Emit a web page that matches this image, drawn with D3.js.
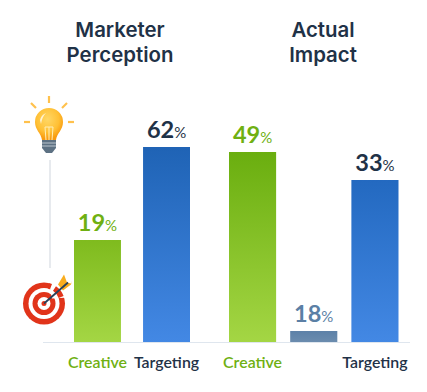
<!DOCTYPE html>
<html>
<head>
<meta charset="utf-8">
<script src="https://cdn.jsdelivr.net/npm/d3@7/dist/d3.min.js"></script>
<style>
  body { margin: 0; background: #fff; }
  text { font-family: Lato, sans-serif; }
  .title { font-family: Inter, sans-serif; font-size: 20.4px; font-weight: 600; fill: #1f3247; text-anchor: middle; }
  .value { font-weight: 700; text-anchor: middle; }
  .cat { font-size: 15.9px; font-weight: 600; text-anchor: middle; }
</style>
</head>
<body>
<div id="chart"></div>
<script>
var groups = ["Marketer Perception", "Actual Impact"];
var perceptionCats = ["Creative", "Targeting"];
var perceptionValues = [19, 62];
// the bars in the original are not drawn to the printed percentages, so heights are read separately
var perceptionHeights = [102, 195];
var impactCats = ["Creative", "Other", "Targeting"];
var impactValues = [49, 18, 33];
var impactHeights = [190, 11, 162];

var width = 427, height = 392, baseline = 342;

var svg = d3.select("#chart").append("svg")
  .attr("width", width)
  .attr("height", height)
  .style("display", "block");

var defs = svg.append("defs");

function gradient(id, top, bottom){
  var g = defs.append("linearGradient").attr("id", id)
    .attr("x1", 0).attr("y1", 0).attr("x2", 0).attr("y2", 1);
  g.append("stop").attr("offset", 0).attr("stop-color", top);
  g.append("stop").attr("offset", 1).attr("stop-color", bottom);
}
gradient("green-tall", "#6aae0f", "#a4d644");
gradient("green-short", "#7fbb1e", "#a4d644");
gradient("blue-tall", "#1f63b5", "#4388e4");
gradient("blue-mid", "#2369c0", "#4388e4");
gradient("grey", "#5d81a8", "#6b8cae");

var y = d3.scaleLinear().domain([0, 195]).range([baseline, 147]);

var xLeft = d3.scaleBand().domain(perceptionCats).range([74, 190]).paddingInner(0.32);
var xRight = d3.scaleBand().domain(impactCats).range([229, 398.5]).paddingInner(0.23);

var perception = perceptionCats.map(function(c, i){
  return { cat: c, value: perceptionValues[i], h: perceptionHeights[i], x: xLeft(c), w: xLeft.bandwidth(),
    fill: c === "Creative" ? "url(#green-short)" : "url(#blue-tall)", color: c === "Creative" ? "#6fb012" : "#1f3247" };
});
var impact = impactCats.map(function(c, i){
  var fill = c === "Creative" ? "url(#green-tall)" : c === "Targeting" ? "url(#blue-mid)" : "url(#grey)";
  var color = c === "Creative" ? "#6fb012" : c === "Targeting" ? "#1f3247" : "#5b7fa5";
  return { cat: c, value: impactValues[i], h: impactHeights[i], x: xRight(c), w: xRight.bandwidth(), fill: fill, color: color };
});
var bars = perception.concat(impact);

// Baseline
svg.append("line")
  .attr("x1", 43).attr("x2", 410)
  .attr("y1", baseline + 0.5).attr("y2", baseline + 0.5)
  .attr("stroke", "#dfe6ee").attr("stroke-width", 1);

// Bars
svg.selectAll(".bar").data(bars).enter().append("rect")
  .attr("class", "bar")
  .attr("x", function(d){ return d.x; })
  .attr("y", function(d){ return y(d.h); })
  .attr("width", function(d){ return d.w; })
  .attr("height", function(d){ return baseline - y(d.h); })
  .attr("fill", function(d){ return d.fill; });

// Value labels
var labels = svg.selectAll(".value").data(bars).enter().append("text")
  .attr("class", "value")
  .attr("x", function(d){ return d.x + d.w / 2; })
  .attr("y", function(d){ return y(d.h) - 9; })
  .attr("fill", function(d){ return d.color; });
labels.append("tspan").style("font-size", "23.5px").style("font-weight", 700).text(function(d){ return d.value; });
labels.append("tspan").style("font-size", "15px").style("font-weight", 400).text("%");

// Category labels, the short middle bar has none
svg.selectAll(".cat").data(bars.filter(function(d){ return d.cat !== "Other"; })).enter().append("text")
  .attr("class", "cat")
  .attr("x", function(d){ return d.x + d.w / 2; })
  .attr("y", 368)
  .attr("fill", function(d){ return d.color; })
  .text(function(d){ return d.cat; });

// Titles
var titleX = d3.scalePoint().domain(groups).range([120, 323]);
groups.forEach(function(g){
  var words = g.split(" ");
  words.forEach(function(w, i){
    svg.append("text").attr("class", "title")
      .attr("x", titleX(g))
      .attr("y", 37 + i * 25)
      .text(w);
  });
});

// Connector between the icons
svg.append("line")
  .attr("x1", 50).attr("x2", 50).attr("y1", 160).attr("y2", 268)
  .attr("stroke", "#dfe3e8").attr("stroke-width", 1.5);

// Bulb icon
var bulb = svg.append("g").attr("transform", "translate(49,122)");
var bulbGrad = defs.append("radialGradient").attr("id", "bulb-fill")
  .attr("cx", 0.45).attr("cy", 0.35).attr("r", 0.62);
bulbGrad.append("stop").attr("offset", 0).attr("stop-color", "#ffd765");
bulbGrad.append("stop").attr("offset", 0.65).attr("stop-color", "#ffc035");
bulbGrad.append("stop").attr("offset", 1).attr("stop-color", "#f99a0e");
[[0,-19,0,-26],[-13,-14,-18,-19],[13,-14,18,-19],[-19,0,-25,0],[19,0,25,0]].forEach(function(r){
  bulb.append("line")
    .attr("x1", r[0]).attr("y1", r[1]).attr("x2", r[2]).attr("y2", r[3])
    .attr("stroke", "#ffc14d").attr("stroke-width", 2.2);
});
bulb.append("path")
  .attr("d", "M-7,18 C-8,11 -14,8 -14,0 A14,14 0 1 1 14,0 C14,8 8,11 7,18 Z")
  .attr("fill", "url(#bulb-fill)");
bulb.append("path")
  .attr("d", "M-9,-2 A10,10 0 0 1 -3,-9 C-6,-6 -7,-3 -8,2 Z")
  .attr("fill", "#fff").attr("opacity", 0.75);
bulb.append("path")
  .attr("d", "M-3,18 L-4,5 L4,5 L3,18 M0,18 L0,5")
  .attr("fill", "none").attr("stroke", "#ffeeb5").attr("stroke-width", 1);
bulb.append("path")
  .attr("d", "M-7,18 H7 V26 L3,31 H-3 L-7,26 Z")
  .attr("fill", "#5d7183");
[21, 24].forEach(function(ly){
  bulb.append("line").attr("x1", -7).attr("x2", 7).attr("y1", ly).attr("y2", ly)
    .attr("stroke", "#c5ced6").attr("stroke-width", 0.9);
});

// Target icon
var target = svg.append("g").attr("transform", "translate(44,303.5)");
target.append("circle").attr("r", 21).attr("fill", "#e1341a");
target.append("circle").attr("r", 15.5).attr("fill", "#fff");
target.append("circle").attr("r", 11.5).attr("fill", "#e1341a");
target.append("circle").attr("r", 6.5).attr("fill", "#fff");
target.append("circle").attr("r", 2.5).attr("fill", "#e1341a");
// notch in the rings where the arrow enters
target.append("path").attr("d", "M4,-25 L10,-24 L26,-11 L24,-6 L8,-5 Z").attr("fill", "#fff");
target.append("path").attr("d", "M5,-20.4 A21,21 0 0 1 8,-19.4 L6,-14.3 A15.5,15.5 0 0 0 4,-15 Z").attr("fill", "#e1341a");
target.append("path").attr("d", "M12,-17.2 A21,21 0 0 1 19.6,-7.5 L14.6,-5.6 A15.5,15.5 0 0 0 9,-12.7 Z").attr("fill", "#e1341a");
target.append("path").attr("d", "M14,-19 L20,-29 L23,-21 L27,-20 L28,-23 L27,-19 L19,-13 Z").attr("fill", "#f9ad1f");
target.append("line").attr("x1", 0).attr("y1", 0).attr("x2", 24).attr("y2", -21)
  .attr("stroke", "#27415c").attr("stroke-width", 1.8);
</script>
</body>
</html>
